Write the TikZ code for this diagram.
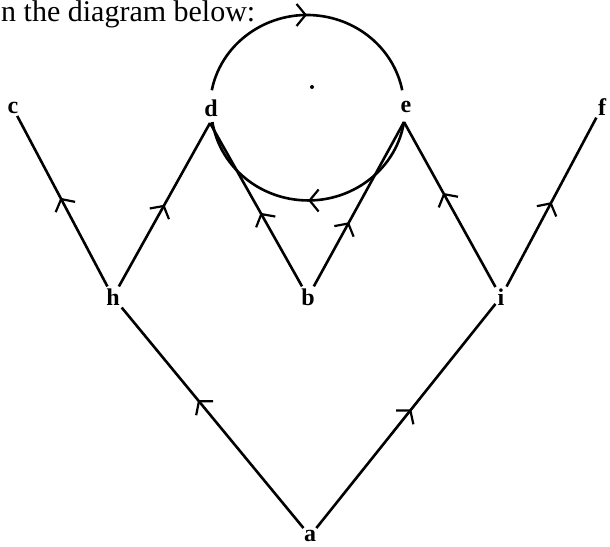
\documentclass[tikz,border=0pt]{standalone}
\usepackage{fontspec}
\setmainfont{Liberation Serif}
\usetikzlibrary{arrows.meta,decorations.markings}

\begin{document}
\begin{tikzpicture}[x=1pt,y=1pt,
  lbl/.style={font=\fontsize{24}{28}\selectfont\bfseries,inner sep=2pt},
  edge/.style={line width=2.6pt},
  midarrow/.style={postaction={decorate},decoration={markings,
    mark=at position #1 with {\arrow{Straight Barb[length=9pt,width=22pt,line width=2.2pt]}}}}]
\useasboundingbox (0,0) rectangle (610,546);
% heading line
\node[anchor=base west,inner sep=0pt,font=\fontsize{30}{35}\selectfont] (intro) at (1,524) {n the diagram below:};
% labels
\node[lbl] (c) at (13,438) {c};
\node[lbl] (d) at (211,438) {d};
\node[lbl] (e) at (406,439) {e};
\node[lbl] (f) at (602,439) {f};
\node[lbl] (h) at (113,249) {h};
\node[lbl] (b) at (308,249) {b};
\node[lbl] (i) at (501,249) {i};
\node[lbl] (a) at (310,10) {a};
% vertices under d and e, centre of the loop
\coordinate (dv) at (210,423);
\coordinate (ev) at (404,424);
\coordinate (ctr) at (307,438);
% edges
\draw[edge,midarrow=0.52] (h) -- (c);
\draw[edge,midarrow=0.5] (h) -- (dv);
\draw[edge,midarrow=0.45] (b) -- (dv);
\draw[edge,midarrow=0.39] (b) -- (ev);
\draw[edge,midarrow=0.57] (i) -- (ev);
\draw[edge,midarrow=0.5] (i) -- (f);
\draw[edge,midarrow=0.58] (a) -- (h);
\draw[edge,midarrow=0.53] (a) -- (i);
% loop
\draw[edge,midarrow=0.5] ([shift={(169:97 and 93)}]ctr) arc[start angle=169,end angle=11,x radius=97,y radius=93];
\draw[edge,midarrow=0.5] (ev) arc[start angle=-9,end angle=-171,x radius=97,y radius=93];
\fill (312,459) circle (2);
\end{tikzpicture}
\end{document}
